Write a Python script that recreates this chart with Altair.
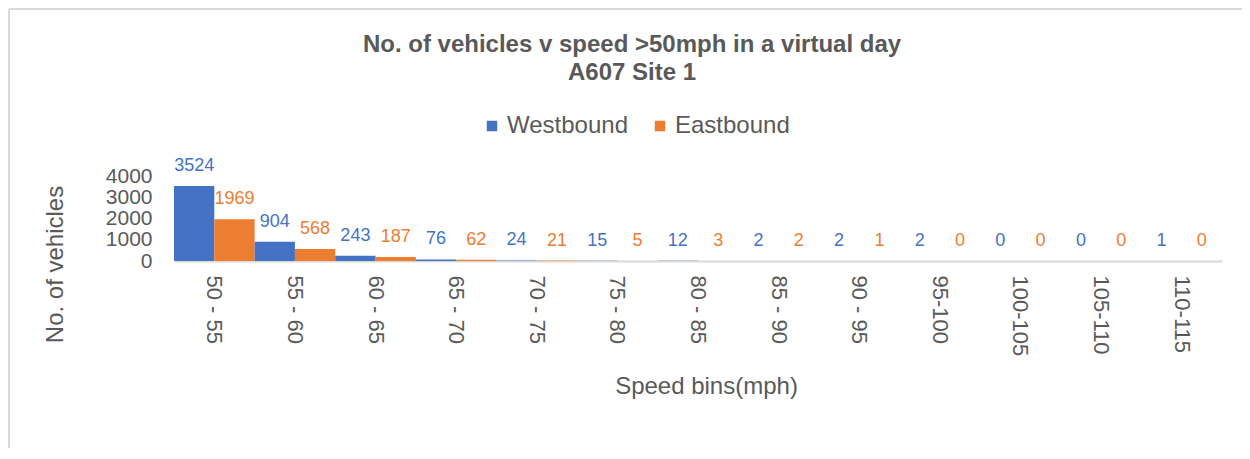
import altair as alt
import pandas as pd

# ---- data ----
bins = ["50 - 55", "55 - 60", "60 - 65", "65 - 70", "70 - 75", "75 - 80", "80 - 85",
        "85 - 90", "90 - 95", "95-100", "100-105", "105-110", "110-115"]
westbound = [3524, 904, 243, 76, 24, 15, 12, 2, 2, 2, 0, 0, 1]
eastbound = [1969, 568, 187, 62, 21, 5, 3, 2, 1, 0, 0, 0, 0]
series = ["Westbound", "Eastbound"]
colors = ["#4472C4", "#ED7D31"]
y_ticks = [0, 1000, 2000, 3000, 4000]

rows = []
for b, w, e in zip(bins, westbound, eastbound):
    rows.append({"bin": b, "series": "Westbound", "value": w})
    rows.append({"bin": b, "series": "Eastbound", "value": e})
df = pd.DataFrame(rows)

TXT = "#595959"
FONT = "Liberation Sans"

x_enc = alt.X(
    "bin:N", sort=bins, title="Speed bins(mph)",
    scale=alt.Scale(paddingInner=0, paddingOuter=0),
    axis=alt.Axis(
        labelAngle=90, labelFontSize=22, labelColor=TXT, labelPadding=14,
        labelOverlap=False, ticks=False, tickSize=0,
        domainColor="#d9d9d9", domainWidth=2,
        titleFontSize=24, titleFontWeight="normal", titleColor=TXT,
        titleX=532, titleY=132, titleBaseline="alphabetic", titleAlign="center",
    ),
)
xo_enc = alt.XOffset("series:N", sort=series, scale=alt.Scale(paddingInner=0, paddingOuter=0))
y_enc = alt.Y(
    "value:Q", title="No. of vehicles",
    scale=alt.Scale(domain=[0, 4000], nice=False),
    axis=alt.Axis(
        values=y_ticks, format="d", grid=False, domain=False, ticks=False, tickSize=0,
        labelFontSize=21, labelColor=TXT, labelPadding=22, labelOverlap=False,
        labelFlush=False, labelBound=False,
        titleFontSize=24, titleFontWeight="normal", titleColor=TXT,
        titleX=-112, titleY=88, titleAngle=-90, titleBaseline="alphabetic", titleAlign="center",
    ),
)
color_scale = alt.Scale(domain=series, range=colors)

bars = alt.Chart(df).mark_bar().encode(
    x=x_enc, xOffset=xo_enc, y=y_enc,
    color=alt.Color(
        "series:N", sort=series, scale=color_scale, title=None,
        legend=alt.Legend(
            orient="none", legendX=306, legendY=-62, direction="horizontal",
            symbolType="square", symbolSize=110, symbolStrokeWidth=0,
            labelFontSize=24, labelColor=TXT, labelOffset=3, columnPadding=20,
            padding=0,
        ),
    ),
)

labels = alt.Chart(df).mark_text(dy=-15, baseline="alphabetic", fontSize=18, font=FONT).encode(
    x=x_enc, xOffset=xo_enc, y=y_enc,
    text="value:Q",
    color=alt.Color("series:N", scale=color_scale, legend=None),
)

frame_df = pd.DataFrame({"k": [0]})
left_border = alt.Chart(frame_df).mark_rule(color="#d9d9d9", strokeWidth=2).encode(
    x=alt.value(-165), y=alt.value(-167), y2=alt.value(272)
)
top_border = alt.Chart(frame_df).mark_rule(color="#d9d9d9", strokeWidth=2).encode(
    x=alt.value(-165), x2=alt.value(1070), y=alt.value(-167)
)

chart = alt.layer(left_border, top_border, bars, labels).properties(
    width=1048, height=85,
    autosize=alt.AutoSizeParams(type="none"),
    padding={"left": 166, "top": 168, "right": 20, "bottom": 187},
    title=alt.TitleParams(
        text=["No. of vehicles v speed >50mph in a virtual day", "A607 Site 1"],
        fontSize=24, fontWeight="bold", color=TXT, font=FONT,
        anchor="middle", frame="group", dx=-66, offset=-77, lineHeight=28,
    ),
).configure(font=FONT).configure_view(stroke=None)

chart.save("out.html", embed_options={"renderer": "svg", "actions": False})
